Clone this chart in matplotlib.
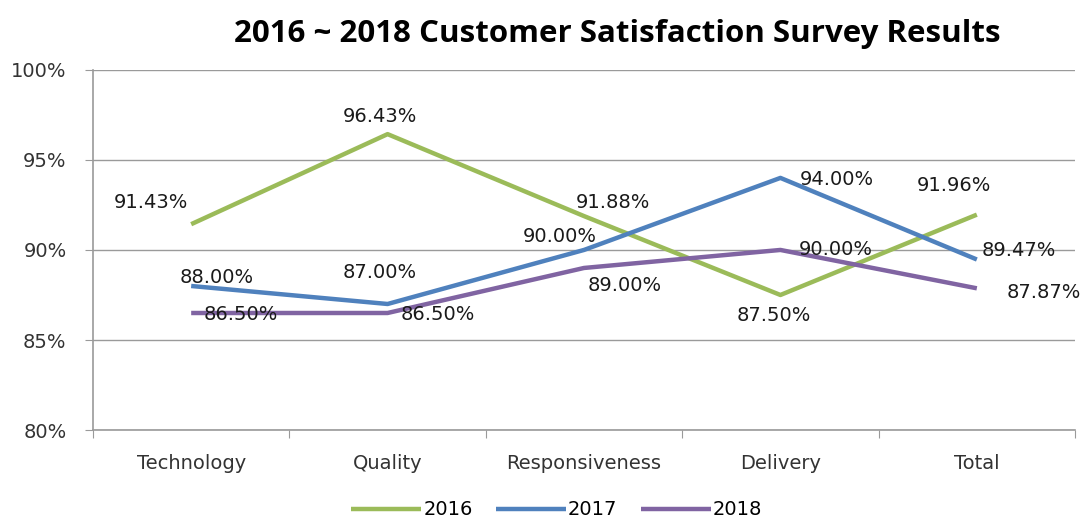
import matplotlib.pyplot as plt
import numpy as np

# Survey data (percent)
categories = ['Technology', 'Quality', 'Responsiveness', 'Delivery', 'Total']
years = ['2016', '2017', '2018']
sat_2016 = [91.43, 96.43, 91.88, 87.50, 91.96]
sat_2017 = [88.00, 87.00, 90.00, 94.00, 89.47]
sat_2018 = [86.50, 86.50, 89.00, 90.00, 87.87]

colors = {'2016': '#9BBB59', '2017': '#4F81BD', '2018': '#8064A2'}

# label offsets in pixels (dx, dy) relative to each point
offsets = {
    '2016': [(-40, 22), (-8, 18), (29, 14), (-7, -21), (-23, 29)],
    '2017': [(26, 8), (-8, 31), (-24, 13), (56, -2), (42, 9)],
    '2018': [(50, -2), (50, -2), (41, -18), (55, 0), (67, -4)],
}

fig = plt.figure(figsize=(10.81, 5.29), dpi=100)
ax = fig.add_axes([0.086, 0.187, 0.9085, 0.681])

x = np.arange(len(categories)) + 0.5
series = {'2016': sat_2016, '2017': sat_2017, '2018': sat_2018}

for yr in years:
    vals = series[yr]
    ax.plot(x, vals, color=colors[yr], linewidth=3.2, label=yr,
            solid_capstyle='butt', zorder=3)
    for xi, v, (dx, dy) in zip(x, vals, offsets[yr]):
        ax.annotate(f'{v:.2f}%', xy=(xi, v), xytext=(dx, dy),
                    textcoords='offset pixels', ha='center', va='center',
                    fontsize=14, color='#1a1a1a', zorder=4)

ax.set_xlim(0, 5)
ax.set_ylim(80, 100)
ax.set_yticks([80, 85, 90, 95, 100])
ax.set_yticklabels([f'{v}%' for v in [80, 85, 90, 95, 100]], fontsize=14, color='#333333')
ax.grid(axis='y', color='#9a9a9a', linewidth=1, zorder=0)

ax.set_xticks(np.arange(0, 6))
ax.set_xticklabels([])
ax.set_xticks(x, minor=True)
ax.set_xticklabels(categories, minor=True, fontsize=14, color='#333333')
ax.tick_params(axis='x', which='minor', length=0, pad=17)
ax.tick_params(axis='x', which='major', length=6, color='#9a9a9a', direction='out')
ax.tick_params(axis='y', length=6, color='#9a9a9a', direction='out', pad=13)

for s in ['top', 'right']:
    ax.spines[s].set_visible(False)
for s in ['left', 'bottom']:
    ax.spines[s].set_color('#9a9a9a')
    ax.spines[s].set_linewidth(1.2)

fig.suptitle('2016 ~ 2018 Customer Satisfaction Survey Results',
             x=0.571, y=0.965, fontsize=22.5, fontweight='bold', family='Open Sans')

fig.legend(loc='lower center', bbox_to_anchor=(0.515, -0.015), ncol=3, frameon=False,
           fontsize=14, handlelength=3.6, handletextpad=0.1, columnspacing=1.2)

plt.savefig('out.png', dpi=100)
